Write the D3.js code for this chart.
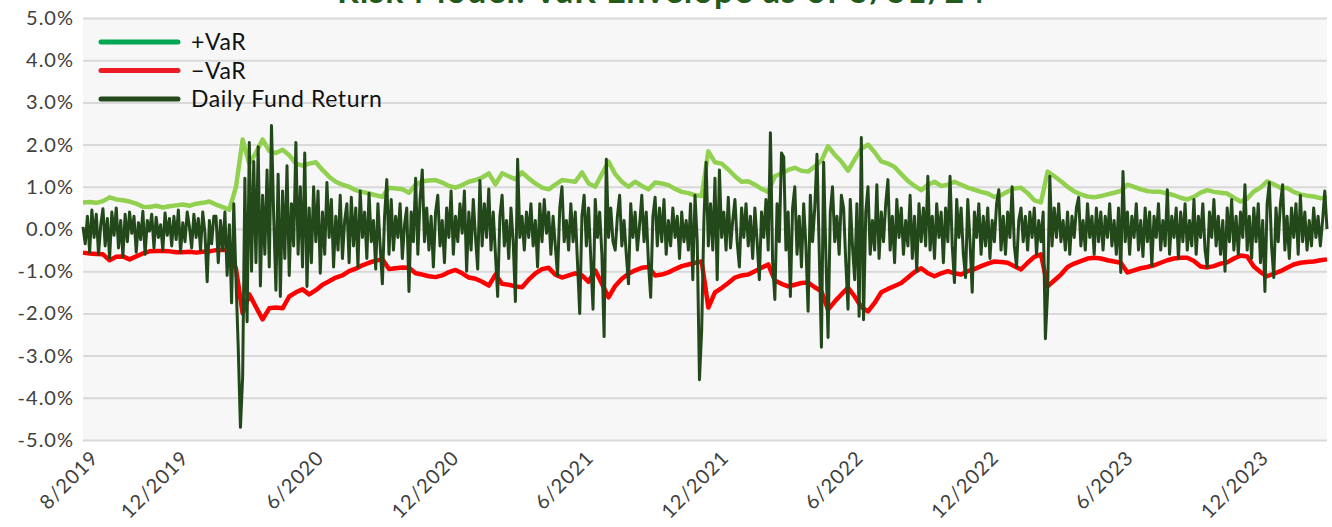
<!DOCTYPE html>
<html>
<head>
<meta charset="utf-8">
<script src="https://cdn.jsdelivr.net/npm/d3@7"></script>
<style>
  body { margin: 0; background: #fff; }
  svg text { font-family: Lato, "Open Sans", sans-serif; }
</style>
</head>
<body>
<div id="canvas"></div>
<script>
const canvas = d3.select("#canvas");

const titleText = "Risk Model: VaR Envelope as of 3/31/24";
const seriesNames = ["+VaR", "\u2212VaR", "Daily Fund Return"];

// x categories: first date and spacing of the samples (days)
const startDate = "2019-07-25";
const returnStepDays = 3;
const varStepDays = 9;

const xTickDates = ["2019-08-01", "2019-12-01", "2020-06-01", "2020-12-01", "2021-06-01",
  "2021-12-01", "2022-06-01", "2022-12-01", "2023-06-01", "2023-12-01"];
const xTickLabels = ["8/2019", "12/2019", "6/2020", "12/2020", "6/2021",
  "12/2021", "6/2022", "12/2022", "6/2023", "12/2023"];
const yTicks = [-5, -4, -3, -2, -1, 0, 1, 2, 3, 4, 5];

// values in %
const varUpper = [
  0.63,0.64,0.62,0.66,0.75,0.70,0.68,0.65,0.60,0.53,
  0.52,0.55,0.51,0.54,0.56,0.58,0.55,0.60,0.62,0.65,
  0.58,0.52,0.46,1.00,2.12,1.55,1.81,2.12,1.85,1.80,
  1.88,1.75,1.55,1.50,1.55,1.58,1.40,1.24,1.12,1.05,
  1.00,0.92,0.88,0.84,0.80,0.76,0.98,0.96,0.94,0.86,
  1.05,1.13,1.15,1.16,1.10,1.02,0.98,1.04,1.12,1.16,
  1.22,1.32,1.06,1.32,1.25,1.18,1.34,1.20,1.08,0.98,
  0.94,1.05,1.16,1.14,1.12,1.34,1.08,1.00,1.30,1.60,
  1.30,1.12,1.00,1.12,1.02,0.94,1.10,1.08,1.04,0.95,
  0.88,0.85,0.80,0.78,1.84,1.58,1.55,1.41,1.25,1.12,
  1.13,1.05,0.95,0.88,1.25,1.32,1.40,1.45,1.38,1.36,
  1.48,1.62,1.96,1.76,1.60,1.38,1.65,1.90,2.00,1.82,
  1.60,1.55,1.47,1.30,1.14,1.02,0.92,1.05,1.12,1.02,
  1.05,1.12,1.05,0.98,0.93,0.88,0.84,0.76,0.80,0.89,
  0.96,0.98,0.85,0.68,0.63,1.36,1.25,1.13,1.00,0.89,
  0.82,0.77,0.75,0.78,0.82,0.86,0.90,1.05,1.00,0.94,
  0.90,0.88,0.88,0.84,0.80,0.74,0.70,0.76,0.86,0.92,
  0.88,0.86,0.84,0.74,0.65,0.72,0.89,0.98,1.13,1.06,
  0.98,0.97,0.88,0.82,0.79,0.77,0.73,0.75
];

const varLower = [
  -0.56,-0.58,-0.59,-0.60,-0.74,-0.66,-0.65,-0.72,-0.65,-0.58,
  -0.53,-0.52,-0.52,-0.53,-0.55,-0.55,-0.54,-0.56,-0.54,-0.53,
  -0.50,-0.50,-0.49,-0.95,-2.00,-1.55,-1.85,-2.14,-1.88,-1.86,
  -1.88,-1.60,-1.50,-1.43,-1.55,-1.45,-1.32,-1.24,-1.15,-1.10,
  -1.00,-0.94,-0.86,-0.80,-0.75,-0.72,-0.95,-0.93,-0.91,-0.92,
  -1.05,-1.08,-1.12,-1.14,-1.10,-1.02,-0.97,-1.05,-1.15,-1.18,
  -1.25,-1.34,-1.08,-1.30,-1.32,-1.36,-1.38,-1.20,-1.05,-0.95,
  -0.92,-1.08,-1.15,-1.10,-1.05,-1.10,-1.25,-0.98,-1.30,-1.62,
  -1.35,-1.18,-1.06,-0.98,-0.92,-0.90,-1.10,-1.08,-1.03,-0.95,
  -0.88,-0.84,-0.80,-0.77,-1.86,-1.50,-1.40,-1.28,-1.15,-1.10,
  -1.08,-1.00,-0.92,-0.84,-1.22,-1.30,-1.36,-1.32,-1.28,-1.27,
  -1.38,-1.48,-1.91,-1.72,-1.55,-1.39,-1.60,-1.85,-1.95,-1.75,
  -1.50,-1.42,-1.35,-1.28,-1.15,-1.02,-0.93,-1.05,-1.12,-1.05,
  -1.00,-1.05,-1.08,-1.00,-0.95,-0.88,-0.82,-0.77,-0.78,-0.80,
  -0.88,-0.96,-0.80,-0.66,-0.60,-1.36,-1.22,-1.08,-0.90,-0.82,
  -0.76,-0.70,-0.68,-0.70,-0.74,-0.77,-0.80,-1.03,-0.98,-0.93,
  -0.90,-0.86,-0.80,-0.74,-0.70,-0.68,-0.68,-0.76,-0.89,-0.91,
  -0.88,-0.82,-0.79,-0.70,-0.63,-0.65,-0.89,-1.02,-1.12,-1.06,
  -1.00,-0.92,-0.84,-0.80,-0.78,-0.77,-0.74,-0.72
];

const dailyReturn = [
  0.05,-0.35,0.30,-0.55,0.45,-0.20,0.35,-0.60,0.10,0.48,-0.40,0.25,-0.70,0.40,-0.15,0.50,-0.45,0.20,-0.65,0.35,
  -0.30,0.40,-0.10,0.30,-0.55,0.15,-0.25,0.42,-0.60,0.20,-0.05,0.35,-0.45,0.28,-0.20,0.10,-0.50,0.38,-0.15,0.25,
  -0.40,0.30,-0.25,0.45,-0.55,0.15,-0.30,0.40,0.05,-0.45,0.35,-0.20,0.25,-0.50,0.40,-0.10,-1.25,0.20,-0.35,0.30,
  0.30,-0.80,0.20,-0.50,0.40,-1.10,0.10,-1.75,0.60,-1.20,-2.80,-4.70,-3.50,1.20,-2.20,2.05,-1.00,1.60,-0.80,1.95,
  -1.35,0.80,-0.60,1.40,-0.90,2.45,0.30,-1.45,1.30,-1.60,0.90,-0.70,1.50,-1.10,0.60,-0.40,2.05,-0.60,1.00,-0.90,
  1.80,-1.36,0.50,-0.80,1.00,-0.30,0.90,-1.05,0.40,-0.60,1.10,-0.20,0.70,-0.90,0.30,-0.50,0.80,-0.70,0.20,0.60,
  -0.80,0.75,-0.40,0.50,-0.90,0.90,-0.20,0.40,-0.70,0.85,-0.30,0.20,-0.95,0.60,-0.40,-1.30,0.30,1.17,-0.60,0.70,
  -0.50,0.30,-0.20,0.60,-0.70,0.10,0.50,-1.48,0.40,-0.30,1.20,-0.60,0.70,1.40,-0.30,0.50,-0.50,0.30,-0.90,0.40,
  0.80,-0.40,0.20,-0.80,0.50,-0.20,0.90,-0.60,0.30,-0.30,0.60,-0.10,0.90,-1.00,0.40,-0.50,0.70,-0.20,-0.95,1.15,
  -0.40,0.60,-0.20,0.95,-0.50,0.40,-0.60,-1.60,0.30,0.80,-0.40,0.20,-0.70,0.50,-0.30,-1.72,1.65,-0.20,0.30,-0.50,
  0.40,-0.20,0.60,-0.40,0.20,-0.90,0.60,-0.30,0.70,-0.10,0.40,-0.60,0.30,-0.40,-1.10,0.50,1.00,-0.30,0.20,-0.50,
  0.60,-0.30,0.40,-0.80,-2.00,0.30,0.80,-0.40,0.50,-0.70,-1.90,0.70,-0.20,0.40,-0.60,-2.55,1.65,-0.20,0.50,-0.30,
  -0.50,0.30,0.80,-0.40,0.20,-0.60,-1.30,0.60,-0.20,0.40,-0.50,0.10,0.80,-0.30,0.40,-0.80,-1.62,0.30,0.75,-0.40,
  0.50,-0.30,0.70,-0.60,0.20,-0.40,0.50,-0.20,0.30,-0.70,0.40,-0.30,0.20,-0.50,0.60,-1.20,0.80,-0.30,-3.57,-2.40,
  0.20,1.58,-0.40,0.60,-0.50,1.20,-1.20,1.40,-0.20,0.40,-0.50,0.75,-0.45,0.20,0.70,-0.30,-0.90,0.50,-0.20,0.60,
  -0.40,0.30,-0.70,0.50,-0.30,-1.20,0.40,-0.20,0.70,-0.50,2.28,-0.80,-1.67,0.60,-0.30,1.80,1.70,-0.50,0.40,-1.60,
  0.50,1.00,-0.60,0.30,-0.90,0.60,-0.40,-1.95,0.80,-0.30,0.50,1.77,-0.50,-2.80,1.58,-0.60,-2.57,0.40,1.00,-0.30,
  0.30,-0.60,0.80,0.50,-0.80,-1.90,0.70,-0.40,-1.20,0.60,-2.07,2.17,-2.15,0.40,1.00,-0.60,0.20,-0.50,1.05,-0.70,
  0.40,-0.30,0.60,1.17,-0.50,0.30,-0.80,0.70,-0.20,0.50,-0.60,0.20,-0.40,0.80,-0.70,0.30,-1.00,0.60,-0.30,0.50,
  -0.40,1.25,-0.50,0.30,-0.70,0.60,-0.20,0.40,-0.80,0.50,-0.30,1.25,-0.40,-1.27,0.70,-0.20,0.50,-0.60,-1.15,0.70,
  -0.30,-1.50,0.40,-0.20,0.60,-0.60,0.30,-0.40,0.50,-0.70,0.20,-0.30,0.60,0.93,-0.50,0.30,-0.60,0.40,-0.20,1.00,
  -0.40,-0.90,0.20,0.50,-0.30,0.30,-0.50,0.40,-0.20,0.50,-0.60,0.20,-0.30,0.40,-2.60,-1.50,1.25,-0.40,0.50,-0.20,
  0.60,-0.30,0.20,-0.50,0.40,-0.60,0.30,-0.20,0.50,0.75,-0.40,0.20,-0.50,0.60,-0.20,0.30,-0.60,0.50,-0.30,0.40,
  -0.50,0.30,-0.20,0.60,-0.40,0.20,-0.60,0.50,-1.03,1.36,-0.30,0.40,-0.60,0.30,-0.20,0.60,-0.50,0.20,-0.65,0.50,
  -0.30,0.40,-0.87,0.30,-0.20,0.60,-0.50,0.20,-0.40,0.93,-0.60,0.30,-0.20,0.50,-0.70,0.40,-0.30,0.60,-0.50,0.20,
  -0.40,0.70,-0.60,0.30,-0.20,0.60,-0.50,-0.90,0.40,-0.20,0.70,-0.40,0.30,-0.60,0.20,-1.00,0.50,-0.30,0.70,-0.50,
  0.30,-0.60,0.40,-0.20,1.05,-0.50,0.30,-0.70,0.50,-0.30,0.60,-0.80,0.20,-1.48,0.60,1.10,-0.40,-1.15,0.50,-0.30,
  0.60,1.05,-0.50,0.30,-0.70,0.50,-0.20,0.60,-0.60,0.80,-0.30,0.40,-0.50,0.20,-0.40,0.50,-0.20,0.30,-0.40,0.20,0.90,0.00
];

const width = 1332;
const height = 527;
const margin = { top: 18, left: 83, bottom: 87, right: 5 };
const iwidth = width - margin.left - margin.right;
const iheight = height - margin.top - margin.bottom;

const parse = d3.timeParse("%Y-%m-%d");
const start = parse(startDate);
const returnData = dailyReturn.map((v, i) => ({ date: d3.timeDay.offset(start, i * returnStepDays), value: v }));
const upperData = varUpper.map((v, i) => ({ date: d3.timeDay.offset(start, i * varStepDays), value: v }));
const lowerData = varLower.map((v, i) => ({ date: d3.timeDay.offset(start, i * varStepDays), value: v }));

const svg = canvas.append("svg").attr("width", width).attr("height", height);

const x = d3.scaleTime()
  .domain([start, returnData[returnData.length - 1].date])
  .range([0, iwidth]);
const y = d3.scaleLinear().domain([-5, 5]).range([iheight, 0]);

let g = svg.append("g").attr("transform", `translate(${margin.left},${margin.top})`);

g.append("rect")
  .attr("width", iwidth)
  .attr("height", iheight)
  .attr("fill", "#f7f7f7");

// gridlines
g.append("g")
  .call(d3.axisLeft(y).tickValues(yTicks).tickSize(-iwidth).tickFormat(""))
  .call((s) => s.select(".domain").remove())
  .call((s) => s.selectAll("line").attr("stroke", "#d9d9d9").attr("stroke-width", 2));

g.append("g")
  .classed("y--axis", true)
  .call(d3.axisLeft(y).tickValues(yTicks).tickSize(0).tickPadding(9).tickFormat((d) => d.toFixed(1) + "%"))
  .call((s) => s.select(".domain").remove())
  .call((s) => s.selectAll("text")
    .attr("fill", "#404040")
    .style("font-size", "20px")
    .style("letter-spacing", "1px"));

g.append("g")
  .classed("x--axis", true)
  .attr("transform", `translate(0, ${iheight})`)
  .call(d3.axisBottom(x).tickValues(xTickDates.map(parse)).tickSize(0).tickFormat((d, i) => xTickLabels[i]))
  .call((s) => s.select(".domain").remove())
  .call((s) => s.selectAll("text")
    .attr("fill", "#404040")
    .style("font-size", "20px")
    .style("letter-spacing", "1px")
    .attr("text-anchor", "end")
    .attr("dy", "0.35em")
    .attr("transform", "translate(4, 12) rotate(-45)"));

const line = d3.line()
  .x((d) => x(d.date))
  .y((d) => y(d.value));

g.append("path")
  .datum(upperData)
  .attr("d", line)
  .attr("fill", "none")
  .attr("stroke", "#92d050")
  .attr("stroke-width", 4.5)
  .attr("stroke-linejoin", "round");

g.append("path")
  .datum(lowerData)
  .attr("d", line)
  .attr("fill", "none")
  .attr("stroke", "#ff0000")
  .attr("stroke-width", 4.5)
  .attr("stroke-linejoin", "round");

g.append("path")
  .datum(returnData)
  .attr("d", line)
  .attr("fill", "none")
  .attr("stroke", "#23491b")
  .attr("stroke-width", 3)
  .attr("stroke-linejoin", "round");

// legend
const legendColors = ["#00a651", "#ed1c24", "#24491b"];
const legend = svg.append("g").attr("transform", "translate(101, 42)");
const items = legend.selectAll("g")
  .data(seriesNames)
  .enter()
  .append("g")
  .attr("transform", (d, i) => `translate(0, ${i * 28.5})`);
items.append("line")
  .attr("x1", 0).attr("x2", 77)
  .attr("stroke", (d, i) => legendColors[i])
  .attr("stroke-width", 5)
  .attr("stroke-linecap", "round");
items.append("text")
  .attr("x", 90)
  .attr("dy", "0.35em")
  .style("font-size", "23px")
  .style("letter-spacing", "0.6px")
  .attr("fill", "#111")
  .text((d) => d);

// title (cut off at the top edge, as in the original)
svg.append("text")
  .attr("x", 661)
  .attr("y", 3)
  .attr("text-anchor", "middle")
  .attr("textLength", 648)
  .attr("lengthAdjust", "spacing")
  .style("font-size", "34px")
  .style("font-weight", "bold")
  .attr("fill", "#235a1c")
  .text(titleText);
</script>
</body>
</html>
